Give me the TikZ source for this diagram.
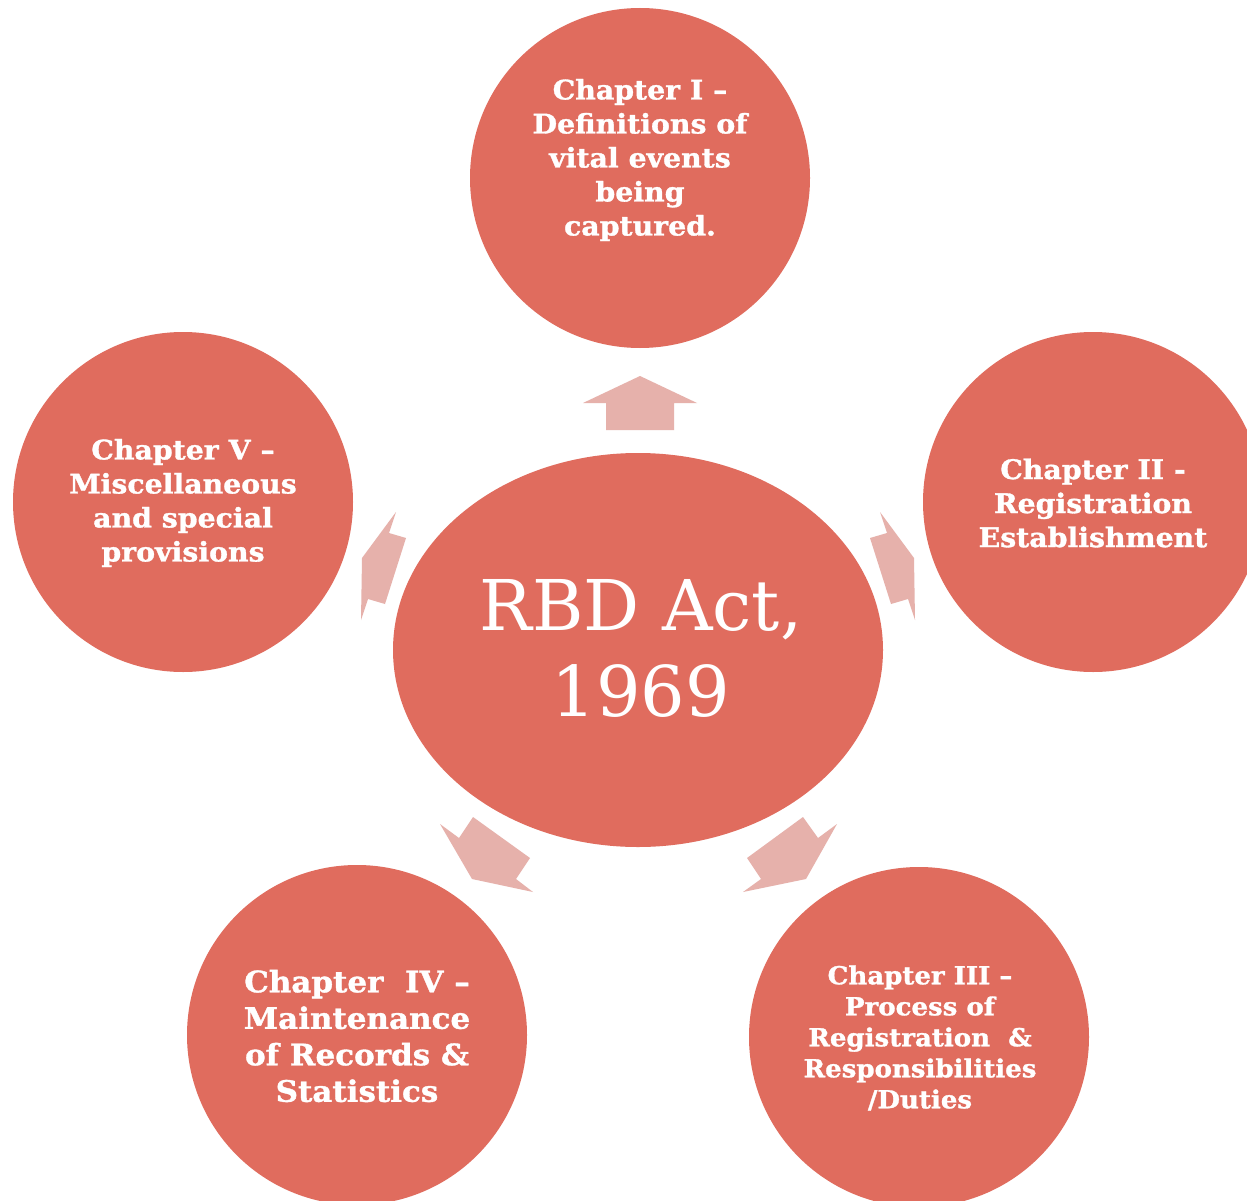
\documentclass[tikz,border=0pt]{standalone}
\usepackage{fontspec}
\usetikzlibrary{shapes.geometric}
\newfontfamily\chfont{DejaVu Serif}
\newfontfamily\chbold{DejaVu Serif Bold}[FakeStretch=1.05, FakeBold=1.2]
\definecolor{circc}{RGB}{224,108,94}
\definecolor{arrc}{RGB}{230,177,171}
\begin{document}
\begin{tikzpicture}[x=1pt,y=-1pt,
  bubble/.style={circle, fill=circc, minimum size=340pt, inner sep=0pt},
  chtext/.style={text=white, align=center, inner sep=0pt, font=\chbold\fontsize{27}{34}\selectfont},
  chsmall/.style={chtext, font=\chbold\fontsize{24.8}{31}\selectfont},
  chlarge/.style={chtext, font=\chbold\fontsize{29.5}{36.5}\selectfont},
  blockarrow/.style={fill=arrc}]
\useasboundingbox (0,0) rectangle (1247,1201);
\clip (0,0) rectangle (1247,1201);
\fill[white] (0,0) rectangle (1247,1201);
% outer circles
\node[bubble] (c1) at (640,178) {};
\node[bubble] (c2) at (1093,502) {};
\node[bubble] (c3) at (919,1037) {};
\node[bubble] (c4) at (357,1035) {};
\node[bubble] (c5) at (183,502) {};
% centre ellipse
\node[ellipse, fill=circc, minimum width=490pt, minimum height=394pt, inner sep=0pt] (hub) at (638,650) {};
\node[text=white, align=center, inner sep=0pt, font=\chfont\fontsize{70}{86}\selectfont] (hubt) at (641,648) {RBD Act,\\1969};
% block arrows
\fill[blockarrow] (640,376) -- (697,403) -- (674,403) -- (674,430) -- (606,430) -- (606,403) -- (583,403) -- cycle;
\fill[blockarrow] (880,512) -- (914,558) -- (915,620) -- (908,599) -- (891,604) -- (870,538) -- (887,533) -- cycle;
\fill[blockarrow] (396,512) -- (362,558) -- (361,620) -- (368,599) -- (385,604) -- (406,538) -- (389,533) -- cycle;
\fill[blockarrow] (440,824) -- (459,838) -- (473,817) -- (530,858) -- (516,879) -- (533,892) -- (472,879) -- cycle;
\fill[blockarrow] (837,824) -- (818,838) -- (803,817) -- (747,858) -- (761,879) -- (743,892) -- (806,879) -- cycle;
% chapter texts
\node[chtext] (t1) at (640,160) {Chapter I –\\Definitions of\\vital events\\being\\captured.};
\node[chtext] (t2) at (1093,503) {Chapter II -\\Registration\\Establishment};
\node[chsmall] (t3) at (920,1038) {Chapter III –\\Process of\\Registration\ \ \&\\Responsibilities\\/Duties};
\node[chlarge] (t4) at (357,1036) {Chapter\ \ IV –\\Maintenance\\of Records \&\\Statistics};
\node[chtext] (t5) at (183,503) {Chapter V –\\Miscellaneous\\and special\\provisions};
\end{tikzpicture}
\end{document}
